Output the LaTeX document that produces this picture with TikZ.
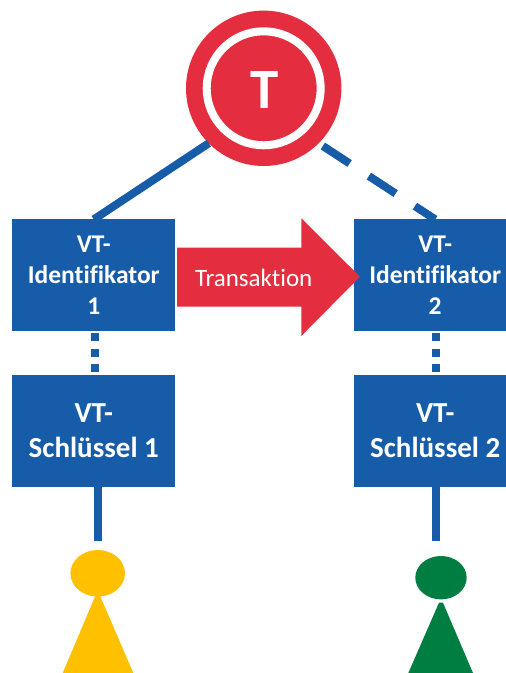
\documentclass[tikz,border=0pt]{standalone}
\usepackage{fontspec}
\setmainfont[RawFeature=-liga]{Carlito}
\usetikzlibrary{shapes.geometric}
\definecolor{c175ca8}{RGB}{23,92,168}
\definecolor{ce42d3f}{RGB}{228,45,63}
\definecolor{cffc000}{RGB}{255,192,0}
\definecolor{c007e41}{RGB}{0,126,65}
\tikzset{
  idbox/.style={fill=c175ca8,text=white,minimum width=163pt,minimum height=111.6pt,align=center,font=\fontsize{25.5}{31}\selectfont\bfseries},
  keybox/.style={idbox,font=\fontsize{29}{35}\selectfont\bfseries},
  link/.style={draw=c175ca8,line width=8pt,line cap=butt}
}

\begin{document}
\begin{tikzpicture}[y=1pt, x=1pt, inner sep=0pt, outer sep=0pt]
  \useasboundingbox (0, 0) rectangle (506, 673);

  % token
  \node[circle,fill=ce42d3f,minimum size=155.4pt] (token) at (263.7, 584.7){};
  \path[draw=white,line width=8pt] (token.center) circle (57);
  \node[text=white,font=\fontsize{57}{57}\selectfont\bfseries] (tokentext) at (265, 583){T};

  % boxes
  \node[idbox] (idbox1) at (93.8, 397.8){VT-\\Identifikator\\1};
  \node[idbox] (idbox2) at (435.2, 397.8){VT-\\Identifikator\\2};
  \node[keybox] (keybox1) at (93.8, 242){VT-\\Schlüssel 1};
  \node[keybox] (keybox2) at (435.2, 242){VT-\\Schlüssel 2};

  \draw[link] (token.225) -- (idbox1.north);
  \draw[link,dash pattern=on 32pt off 23pt,shorten <=5pt] (token.-45) -- (idbox2.north);
  \draw[link,dash pattern=on 8pt off 7.5pt,shorten <=2.3pt,shorten >=3pt] ([xshift=1pt]idbox1.south) -- ([xshift=1pt]keybox1.north);
  \draw[link,dash pattern=on 8pt off 7.5pt,shorten <=2.3pt,shorten >=3pt] ([xshift=1pt]idbox2.south) -- ([xshift=1pt]keybox2.north);

  % transaction arrow
  \path[fill=ce42d3f] (177, 425.3) -- (301.3, 425.3) -- (301.3, 454.7) -- (360, 396.3) -- (301.3, 337) -- (301.3, 366.3) -- (177, 366.3) -- cycle;
  \node[text=white,font=\fontsize{25}{25}\selectfont] (transaktion) at (253.7, 395){Transaktion};

  % figures
  \coordinate (keyend1) at (98, 132);
  \coordinate (keyend2) at (436, 132);
  \draw[link] (keybox1.south -| keyend1) -- (keyend1);
  \draw[link] (keybox2.south -| keyend2) -- (keyend2);

  \node[ellipse,fill=cffc000,minimum width=54.6pt,minimum height=46.6pt] (head1) at (97.7, 99.7){};
  \path[fill=cffc000] (62.7, 0) -- (95.7, 78) -- (99.7, 78) -- (133.3, 0) -- cycle;
  \node[ellipse,fill=c007e41,minimum width=51.4pt,minimum height=43.4pt] (head2) at (441, 95.3){};
  \path[fill=c007e41] (408.3, 0) -- (439, 70.3) -- (443, 70.3) -- (473, 0) -- cycle;
\end{tikzpicture}
\end{document}
